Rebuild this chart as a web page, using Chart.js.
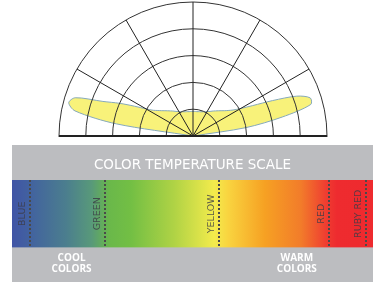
<!DOCTYPE html>
<html>
<head>
<meta charset="utf-8">
<script src="https://cdn.jsdelivr.net/npm/chart.js@4"></script>
<style>
  html, body { margin: 0; padding: 0; background: #fff; width: 375px; height: 282px; overflow: hidden; }
  #polarWrap { position: absolute; left: 58px; top: 1px; width: 270px; height: 136px; overflow: hidden; }
  #scaleWrap { position: absolute; left: 12px; top: 145px; width: 361px; height: 137px; background: #bcbdc0; }
</style>
</head>
<body>
<div id="polarWrap"><canvas id="polar" width="270" height="270"></canvas></div>
<div id="scaleWrap"><canvas id="scale" width="361" height="137"></canvas></div>
<script>
// polar beam: one spoke every 3 degrees, starting at the left horizontal and going over the top
const angleStep = 3;
const angleLabels = Array.from({ length: 360 / angleStep }, (_, i) => (i * angleStep) + '°');
// upper half (0..180 deg), intensity in rings (0..5)
const beamUpper = [
  0, 0, 0, 2.9, 4.5, 4.8, 4.62, 3.6, 3.0, 2.45,
  2.02, 1.76, 1.62, 1.5, 1.41, 1.33, 1.26, 1.2, 1.14, 1.09,
  1.05, 1.02, 0.99, 0.97, 0.95, 0.94, 0.93, 0.92, 0.92, 0.92,
  0.92, 0.92, 0.92, 0.92, 0.93, 0.94, 0.95, 0.97, 0.99, 1.02,
  1.05, 1.09, 1.14, 1.2, 1.26, 1.33, 1.41, 1.5, 1.62, 1.78,
  2.05, 2.5, 3.25, 4.15, 4.6, 4.55, 3.4, 2.0, 0, 0,
  0
];
// lower half (hidden below the baseline)
const beamLower = [
  0, 0, 0, 0, 0, 0, 0, 0, 0, 0,
  0, 0, 0, 0, 0, 0, 0, 0, 0, 0,
  0, 0, 0, 0, 0, 0, 0, 0, 0, 0,
  0, 0, 0, 0, 0, 0, 0, 0, 0, 0,
  0, 0, 0, 0, 0, 0, 0, 0, 0, 0,
  0, 0, 0, 0, 0, 0, 0, 0, 0
];
const ringMax = 5;

// colour temperature scale
const markerNames = ['BLUE', 'GREEN', 'YELLOW', 'RED', 'RUBY RED'];
const markerPos = [5, 25.8, 57.3, 87.8, 98.1];
const groupNames = [['COOL', 'COLORS'], ['WARM', 'COLORS']];
const groupPos = [16.5, 78.9];
const scaleMax = 100;

const gradientStops = [
  [0, '#4054a6'], [0.05, '#42629f'], [0.15, '#4b7e8e'], [0.22, '#58997a'],
  [0.27, '#6ab84a'], [0.33, '#73bf44'], [0.45, '#b0d345'], [0.56, '#f3eb4c'],
  [0.6, '#f9d33f'], [0.7, '#f6a123'], [0.8, '#f27c2a'], [0.87, '#ef3d31'],
  [0.9, '#ee2b2f'], [1, '#ee2a2e']
];

const polar = new Chart(document.getElementById('polar'), {
  type: 'radar',
  data: {
    labels: angleLabels,
    datasets: [{
      data: beamUpper.concat(beamLower),
      backgroundColor: '#f8f27a',
      borderColor: '#86a9bb',
      borderWidth: 1,
      pointRadius: 0,
      tension: 0.3,
      fill: 'shape'
    }]
  },
  options: {
    responsive: false,
    animation: false,
    layout: { padding: 1 },
    plugins: { legend: { display: false }, tooltip: { enabled: false } },
    scales: {
      r: {
        min: 0,
        max: ringMax,
        startAngle: 270,
        ticks: { display: false, stepSize: 1 },
        pointLabels: { display: false },
        grid: { circular: true, color: '#333', lineWidth: 1, z: 1 },
        angleLines: {
          color: c => c.index % 10 === 0 ? '#222' : 'transparent',
          lineWidth: c => (c.index === 0 || c.index === 60) ? 2 : (c.index % 10 === 0 ? 1 : 0)
        }
      }
    }
  }
});

const markerLabels = {
  id: 'markerLabels',
  afterDraw(chart) {
    const { ctx, chartArea, scales: { x } } = chart;
    const midY = (chartArea.top + chartArea.bottom) / 2;
    ctx.save();
    ctx.font = '9.5px "DejaVu Sans"';
    ctx.fillStyle = 'rgba(60, 60, 70, 0.85)';
    ctx.textAlign = 'center';
    ctx.textBaseline = 'middle';
    markerNames.forEach((name, i) => {
      const px = x.getPixelForValue(markerPos[i]) - 7.5;
      ctx.save();
      ctx.translate(px, midY);
      ctx.rotate(-Math.PI / 2);
      ctx.fillText(name, 0, 0);
      ctx.restore();
    });
    ctx.restore();
  }
};

const scale = new Chart(document.getElementById('scale'), {
  type: 'bar',
  data: {
    labels: ['scale'],
    datasets: [{
      data: [scaleMax],
      backgroundColor: function(context) {
        const { ctx, chartArea } = context.chart;
        if (!chartArea) return null;
        const g = ctx.createLinearGradient(chartArea.left, 0, chartArea.right, 0);
        gradientStops.forEach(s => g.addColorStop(s[0], s[1]));
        return g;
      },
      borderWidth: 0,
      barPercentage: 1,
      categoryPercentage: 1
    }]
  },
  options: {
    indexAxis: 'y',
    responsive: false,
    animation: false,
    layout: { padding: { left: 0, right: 0, top: 0, bottom: 2.5 } },
    plugins: {
      legend: { display: false },
      tooltip: { enabled: false },
      title: {
        display: true,
        text: 'COLOR TEMPERATURE SCALE',
        color: '#fff',
        font: { family: 'DejaVu Sans', size: 13.5, weight: 'normal', lineHeight: 1.2 },
        padding: { top: 12.4, bottom: 6.4 }
      }
    },
    scales: {
      y: { display: false },
      x: {
        min: 0,
        max: scaleMax,
        position: 'bottom',
        grid: { drawTicks: false, color: '#4a4a4a', lineWidth: 2, z: 1 },
        border: { display: false, dash: [2, 2] },
        ticks: { display: false },
        afterBuildTicks: s => { s.ticks = markerPos.map(v => ({ value: v })); }
      },
      x2: {
        type: 'linear',
        min: 0,
        max: scaleMax,
        position: 'bottom',
        grid: { display: false, drawTicks: false },
        border: { display: false },
        ticks: {
          color: '#fff',
          font: { family: 'Open Sans', size: 10, weight: 'bold', lineHeight: 1.1 },
          padding: 5,
          autoSkip: false,
          maxRotation: 0,
          callback: (v, i) => groupNames[i]
        },
        afterBuildTicks: s => { s.ticks = groupPos.map(v => ({ value: v })); }
      }
    }
  },
  plugins: [markerLabels]
});
</script>
</body>
</html>
